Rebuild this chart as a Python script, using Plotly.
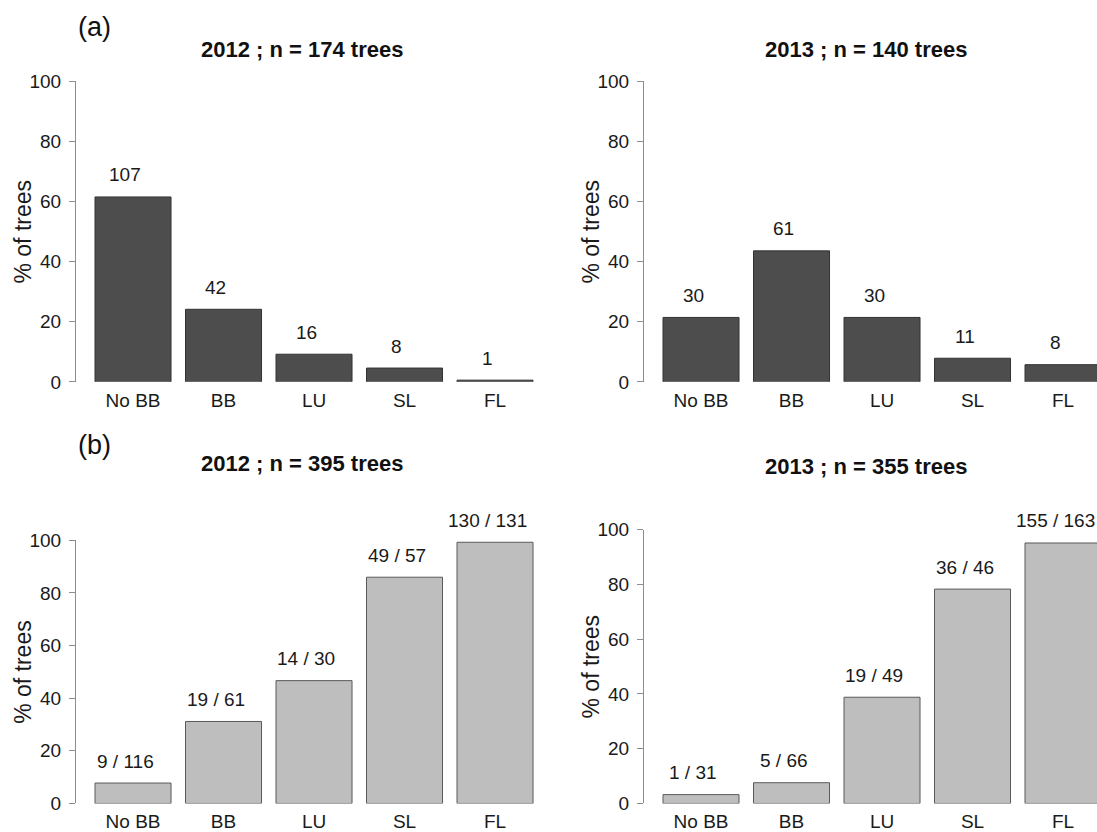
import plotly.graph_objects as go

# Phenological stages on the x axis
stages = ["No BB", "BB", "LU", "SL", "FL"]

# (a) number of trees per stage
count_2012 = [107, 42, 16, 8, 1]
n_2012 = 174
count_2013 = [30, 61, 30, 11, 8]
n_2013 = 140

# (b) affected trees / trees per stage
affected_2012 = [9, 19, 14, 49, 130]
total_2012 = [116, 61, 30, 57, 131]
affected_2013 = [1, 5, 19, 36, 155]
total_2013 = [31, 66, 49, 46, 163]

W, H = 1097, 832
FONT = "Liberation Sans, Arial, sans-serif"
DARK = "#4d4d4d"
LIGHT = "#bebebe"


def px_x(p):
    return p / W


def px_y(p):
    return (H - p) / H


panels = [
    dict(vals=[c / n_2012 * 100 for c in count_2012], labels=[str(c) for c in count_2012],
         fill=DARK, line="#333333", xd=(76, 552), y0=381.5, y100=73, title="2012 ; n = 174 trees",
         tx=302, ty=41),
    dict(vals=[c / n_2013 * 100 for c in count_2013], labels=[str(c) for c in count_2013],
         fill=DARK, line="#333333", xd=(644, 1097), y0=381.5, y100=73, title="2013 ; n = 140 trees",
         tx=866, ty=41),
    dict(vals=[a / t * 100 for a, t in zip(affected_2012, total_2012)],
         labels=[f"{a} / {t}" for a, t in zip(affected_2012, total_2012)],
         fill=LIGHT, line="#5a5a5a", xd=(76, 552), y0=814, y100=544, title="2012 ; n = 395 trees",
         tx=302, ty=465),
    dict(vals=[a / t * 100 for a, t in zip(affected_2013, total_2013)],
         labels=[f"{a} / {t}" for a, t in zip(affected_2013, total_2013)],
         fill=LIGHT, line="#5a5a5a", xd=(644, 1097), y0=814, y100=533, title="2013 ; n = 355 trees",
         tx=866, ty=468),
]

UNIT = 90.5  # pixels between neighbouring bar centres
fig = go.Figure()
annotations = []
layout = {}
xpos = list(range(len(stages)))

for i, p in enumerate(panels, start=1):
    xa = "x" if i == 1 else f"x{i}"
    ya = "y" if i == 1 else f"y{i}"
    fig.add_trace(go.Bar(
        x=xpos, y=p["vals"], xaxis=xa, yaxis=ya, width=0.84,
        marker=dict(color=p["fill"], line=dict(color=p["line"], width=1)),
        showlegend=False, hoverinfo="skip",
    ))
    left, right = p["xd"]
    x_lo = -0.63
    x_hi = x_lo + (right - left) / UNIT
    layout[f"xaxis{'' if i == 1 else i}"] = dict(
        domain=[px_x(left), px_x(right)], anchor=ya, range=[x_lo, x_hi],
        tickvals=xpos, ticktext=stages, showline=False, showgrid=False, zeroline=False,
        ticks="", ticklabelstandoff=5,
        tickfont=dict(family=FONT, size=19, color="#1a1a1a"),
    )
    layout[f"yaxis{'' if i == 1 else i}"] = dict(
        domain=[px_y(p["y0"]), px_y(p["y100"])], anchor=xa, range=[0, 100],
        tickvals=[0, 20, 40, 60, 80, 100], showline=True, linecolor="#8c8c8c", linewidth=1,
        ticks="outside", ticklen=6, tickcolor="#8c8c8c", showgrid=False, zeroline=False,
        ticklabelstandoff=4, tickfont=dict(family=FONT, size=19, color="#1a1a1a"),
    )
    for xv, v, lab in zip(xpos, p["vals"], p["labels"]):
        annotations.append(dict(
            x=xv, y=v, xref=xa, yref=ya, text=lab, showarrow=False,
            yanchor="middle", xanchor="center", yshift=22, xshift=-8,
            font=dict(family=FONT, size=19, color="#1a1a1a"),
        ))
    annotations.append(dict(
        x=px_x(p["tx"]), y=px_y(p["ty"]), xref="paper", yref="paper",
        text=f"<b>{p['title']}</b>", showarrow=False, xanchor="center", yanchor="middle",
        font=dict(family=FONT, size=22, color="#111111"),
    ))
    annotations.append(dict(
        x=px_x(left - 53), y=px_y((p["y0"] + p["y100"]) / 2), xref="paper", yref="paper",
        text="% of trees", textangle=-90, showarrow=False, xanchor="center", yanchor="middle",
        font=dict(family=FONT, size=23, color="#1a1a1a"),
    ))

# Panel letters
for letter, y in [("(a)", 17), ("(b)", 446)]:
    annotations.append(dict(
        x=px_x(94), y=px_y(y), xref="paper", yref="paper", text=letter, showarrow=False,
        xanchor="center", yanchor="middle", font=dict(family=FONT, size=27, color="#111111"),
    ))

fig.update_layout(
    width=W, height=H, margin=dict(l=0, r=0, t=0, b=0),
    paper_bgcolor="white", plot_bgcolor="white",
    bargap=0.16, annotations=annotations, **layout,
)

fig.write_html("out.html")
